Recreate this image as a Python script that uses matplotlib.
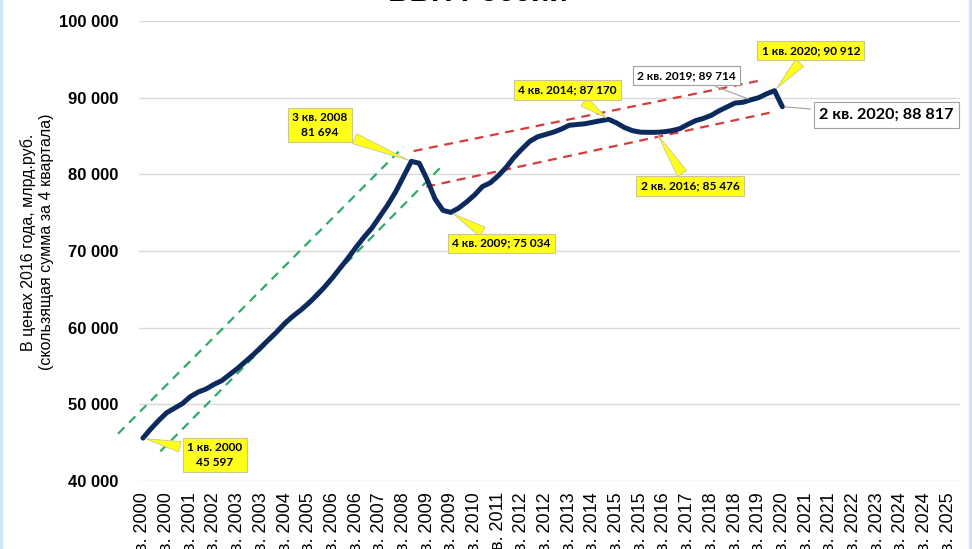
import numpy as np
from matplotlib import pyplot as plt

# quarterly GDP (rolling 4-quarter sum, 2016 prices), 1 кв. 2000 .. 2 кв. 2020
gdp = [45597, 46800, 47900, 48900,
       49500, 50100, 51000, 51600,
       52000, 52600, 53100, 53900,
       54700, 55600, 56500, 57500,
       58500, 59500, 60600, 61500,
       62300, 63200, 64200, 65300,
       66500, 67800, 69100, 70500,
       71800, 73000, 74500, 76000,
       77700, 79700, 81694, 81450,
       79300, 76800, 75300, 75034,
       75600, 76400, 77300, 78400,
       78900, 79800, 80900, 82200,
       83300, 84300, 84900, 85200,
       85500, 85900, 86400, 86500,
       86600, 86800, 87000, 87170,
       86700, 86100, 85700, 85500,
       85480, 85476, 85550, 85700,
       85950, 86500, 87000, 87300,
       87700, 88300, 88800, 89300,
       89400, 89714, 90000, 90500,
       90912, 88817]

years = list(range(2000, 2026))
quarters = [f"{q} кв. {y}" for y in years for q in range(1, 5)]

# trend channels: (start index, start value, end index, end value)
green_up = (-3.15, 46170, 33.0, 83600)
green_lo = (2.2, 43850, 37.8, 81000)
red_up = (34.3, 83040, 78.5, 92300)
red_lo = (35.9, 78390, 80.0, 88170)

# callouts: (point index, text, text index, text value, style)
notes = [
    (0, "1 кв. 2000\n45 597", 9.1, 43390, "y"),
    (34, "3 кв. 2008\n81 694", 22.4, 86470, "y"),
    (39, "4 кв. 2009; 75 034", 45.4, 71000, "y"),
    (59, "4 кв. 2014; 87 170", 53.8, 91000, "y"),
    (65, "2 кв. 2016; 85 476", 69.3, 78480, "y"),
    (77, "2 кв. 2019; 89 714", 68.8, 92890, "w"),
    (80, "1 кв. 2020; 90 912", 84.6, 96120, "y"),
]


def main():
    plt.rcParams['font.family'] = ['Liberation Sans', 'DejaVu Sans']
    fig = plt.figure(figsize=(9.72, 5.49), dpi=100)
    ax = fig.add_axes([139 / 972, 1 - 481 / 549, 821 / 972, 460 / 549])

    x = np.arange(len(gdp))
    ax.plot(x, gdp, color="#0c2a5e", lw=3.6, solid_joinstyle="round",
            solid_capstyle="round", zorder=5)

    for ln, col in [(green_up, "#2faa6a"), (green_lo, "#2faa6a"),
                    (red_up, "#d83c3a"), (red_lo, "#d83c3a")]:
        ax.plot([ln[0], ln[2]], [ln[1], ln[3]], color=col, lw=1.6,
                ls=(0, (4, 3)), zorder=4, clip_on=False)

    for i, txt, tx, ty, st in notes:
        if st == "y":
            box = dict(boxstyle="square,pad=0.35", fc="#ffff1a", ec="#c8c890", lw=0.8)
            arr = dict(arrowstyle="wedge,tail_width=0.9,shrink_factor=0.5",
                       fc="#ffff1a", ec="#c8c890", lw=0.6)
        else:
            box = dict(boxstyle="square,pad=0.35", fc="white", ec="#a0a0a0", lw=0.8)
            arr = dict(arrowstyle="-", color="#a0a0a0", lw=0.8)
        ax.annotate(txt, xy=(i, gdp[i]), xytext=(tx, ty), fontsize=8.6,
                    fontweight="bold", family=["Lato", "DejaVu Sans"],
                    ha="center", va="center", linespacing=1.45,
                    bbox=box, arrowprops=arr, zorder=6)

    ax.annotate("2 кв. 2020; 88 817", xy=(81, gdp[81]), xytext=(94.2, 87740),
                fontsize=11.6, fontweight="bold", family=["Lato", "DejaVu Sans"],
                ha="center", va="center",
                bbox=dict(boxstyle="square,pad=0.35", fc="white", ec="#a0a0a0", lw=0.8),
                arrowprops=dict(arrowstyle="-", color="#a0a0a0", lw=0.8), zorder=6)

    ax.set_xlim(-0.5, len(quarters) - 0.5)
    ax.set_ylim(40000, 100000)
    ax.set_yticks(range(40000, 100001, 10000))
    ax.set_yticklabels([f"{v // 1000} 000" for v in range(40000, 100001, 10000)],
                       fontsize=12, fontweight="bold")
    ax.set_xticks(range(0, len(quarters), 3))
    ax.set_xticklabels(quarters[::3], rotation=90, fontsize=13)
    ax.tick_params(axis="both", length=0)
    ax.tick_params(axis="y", pad=15)
    ax.tick_params(axis="x", pad=8)
    ax.grid(axis="y", color="#d9d9d9", lw=1)
    ax.set_axisbelow(True)
    for s in ax.spines.values():
        s.set_visible(False)

    fig.text(37 / 972, 1 - 242 / 549,
             "В ценах 2016 года, млрд.руб.\n(скользящая сумма за 4 квартала)",
             fontsize=11.5, rotation=90, ha="center", va="center",
             linespacing=1.2, multialignment="center")

    fig.text(0.492, 1 - 1 / 549, "ВВП России", fontsize=21.5, fontweight="bold",
             ha="center", va="baseline")
    for xx in (1, 970):
        fig.add_artist(plt.Line2D([xx / 972, xx / 972], [0, 1], color="#cfe6f7", lw=2.5))

    fig.savefig("out.png", dpi=100)


if __name__ == '__main__':
    main()
